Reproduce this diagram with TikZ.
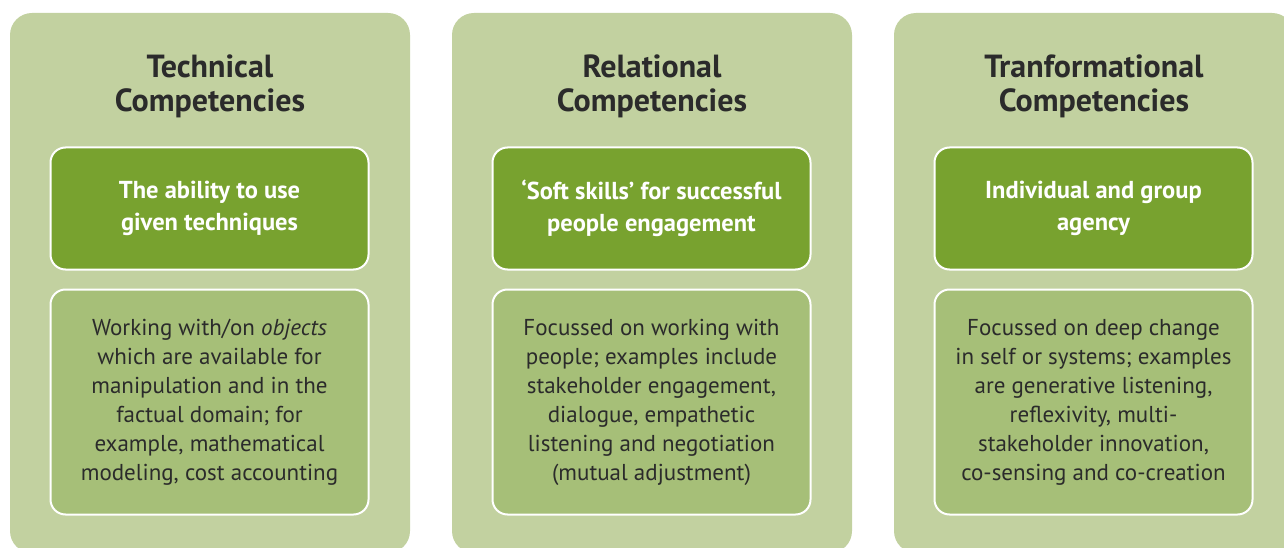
\documentclass[tikz,border=0pt]{standalone}
\usepackage{fontspec}
\setmainfont{PT Sans}
\usetikzlibrary{positioning}

\definecolor{panelgreen}{HTML}{C2D1A0}
\definecolor{headgreen}{HTML}{78A22F}
\definecolor{bodygreen}{HTML}{A6BF78}
\definecolor{inkgray}{HTML}{2B2B2B}

\begin{document}
\begin{tikzpicture}[
        x=1pt, y=-1pt,
        panel/.style={fill=panelgreen, rounded corners=22pt, inner sep=0pt,
            minimum width=400pt, minimum height=540pt},
        heading/.style={text=inkgray, align=center, inner sep=0pt,
            font=\fontsize{32}{34}\selectfont\bfseries},
        headbox/.style={fill=headgreen, draw=white, line width=2pt,
            rounded corners=15pt, minimum width=318pt, minimum height=122pt,
            text=white, align=center, inner sep=0pt,
            font=\fontsize{24.5}{32}\selectfont\bfseries},
        bodybox/.style={fill=bodygreen, draw=white, line width=2pt,
            rounded corners=15pt, minimum width=318pt, minimum height=225pt,
            text=inkgray, align=center, inner sep=0pt,
            font=\fontsize{23}{29}\selectfont},
    ]

    \clip (0,0) rectangle (1284,548);

    % the three columns
    \node[panel] (techpanel) at (210,283) {};
    \node[panel] (relpanel)  at (652,283) {};
    \node[panel] (transpanel) at (1094,283) {};

    \node[heading] (techtitle) at (210,86) {Technical\\Competencies};
    \node[heading] (reltitle)  at (652,86) {Relational\\Competencies};
    \node[heading] (transtitle) at (1094,86) {Tranformational\\Competencies};

    \node[headbox] (techhead) at (209.5,208.5)
        {The ability to use\\given techniques};
    \node[headbox] (relhead)  at (651.5,208.5)
        {‘Soft skills’ for successful\\people engagement};
    \node[headbox] (transhead) at (1093.5,208.5)
        {Individual and group\\agency};

    \node[bodybox] (techbody) at (209.5,402)
        {Working with/on \emph{objects}\\which are available for\\manipulation and in the\\factual domain; for\\example, mathematical\\modeling, cost accounting};
    \node[bodybox] (relbody)  at (651.5,402)
        {Focussed on working with\\people; examples include\\stakeholder engagement,\\dialogue, empathetic\\listening and negotiation\\(mutual adjustment)};
    \node[bodybox] (transbody) at (1093.5,402)
        {Focussed on deep change\\in self or systems; examples\\are generative listening,\\reflexivity, multi-\\stakeholder innovation,\\co-sensing and co-creation};

\end{tikzpicture}
\end{document}
